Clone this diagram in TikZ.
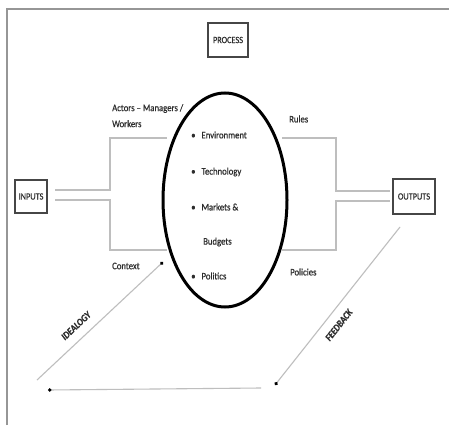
\documentclass[tikz,border=0pt]{standalone}
\usepackage{fontspec}
\setmainfont{Carlito}[FakeStretch=0.87, FakeBold=0.6]
\usetikzlibrary{arrows.meta,shapes.geometric}
\definecolor{txt}{RGB}{45,45,45}
\definecolor{conn}{RGB}{190,190,190}
\definecolor{frame}{RGB}{150,150,150}
\definecolor{boxc}{RGB}{70,70,70}
\tikzset{
  lbl/.style={inner sep=0pt, text=txt, font=\fontsize{10}{16}\selectfont},
  boxnode/.style={draw=boxc, line width=1.8pt, inner sep=0pt, text=txt, font=\fontsize{9.5}{10}\selectfont},
  wire/.style={draw=conn, line width=1.4pt},
  flow/.style={draw=conn, line width=1.1pt, -{Circle[length=3.5pt, fill=black, black]}},
  slant/.style={text=txt, font=\fontsize{10}{10}\selectfont\bfseries\itshape, inner sep=1pt}
}
\begin{document}
\begin{tikzpicture}[x=1pt, y=-1pt]
\useasboundingbox (0,0) rectangle (449,425);
\fill[white] (0,0) rectangle (449,425);
% frame
\draw[frame, line width=1.8pt] (7,425) -- (7,9) -- (449,9);
% boxes
\node[boxnode, minimum width=40pt, minimum height=34pt] (process) at (228,40) {PROCESS};
\node[boxnode, minimum width=32pt, minimum height=33pt] (inputs) at (31,196.5) {INPUTS};
\node[boxnode, minimum width=42pt, minimum height=35pt] (outputs) at (414,196.5) {OUTPUTS};
% ellipse
\node[draw=black, line width=3pt, ellipse, minimum width=124pt, minimum height=214pt, inner sep=0pt] (proc) at (225,200) {};
% wires left
\coordinate (li1) at (55,190);
\coordinate (li2) at (55,200);
\coordinate (le1) at (167,138);
\coordinate (le2) at (167,250);
\draw[wire] (li1) -- (110,190) -- (110,138) -- (le1);
\draw[wire] (li2) -- (110,200) -- (110,250) -- (le2);
% wires right
\coordinate (ro1) at (390,191);
\coordinate (ro2) at (390,201);
\coordinate (re1) at (282,138);
\coordinate (re2) at (282,250);
\draw[wire] (re1) -- (336,138) -- (336,191) -- (ro1);
\draw[wire] (re2) -- (336,250) -- (336,201) -- (ro2);
% labels
\node[lbl, anchor=north west, align=left] (actors) at (112,104) {Actors -- Managers /\\Workers};
\node[lbl, anchor=west] (rules) at (289,119) {Rules};
\node[lbl, anchor=west] (context) at (112,266) {Context};
\node[lbl, anchor=west] (policies) at (290,272) {Policies};
% bullets
\node[lbl, anchor=west] (b1) at (191,135) {\textbullet\hspace{6pt}Environment};
\node[lbl, anchor=west] (b2) at (191,172) {\textbullet\hspace{6pt}Technology};
\node[lbl, anchor=west] (b3) at (191,207) {\textbullet\hspace{6pt}Markets \&};
\node[lbl, anchor=west] (b4) at (203,242) {Budgets};
\node[lbl, anchor=west] (b5) at (191,276) {\textbullet\hspace{6pt}Politics};
% flows
\coordinate (i1) at (37,380);
\coordinate (i2) at (163,262);
\coordinate (f1) at (400,227);
\coordinate (f2) at (275,385);
\coordinate (g1) at (261,388);
\coordinate (g2) at (48,390);
\draw[flow] (i1) -- node[slant, pos=0.38, sloped, above=8pt] (ideal) {IDEALOGY} (i2);
\draw[flow] (f1) -- node[slant, pos=0.57, sloped, below=8pt] (feed) {FEEDBACK} (f2);
\draw[flow] (g1) -- (g2);
\end{tikzpicture}
\end{document}
